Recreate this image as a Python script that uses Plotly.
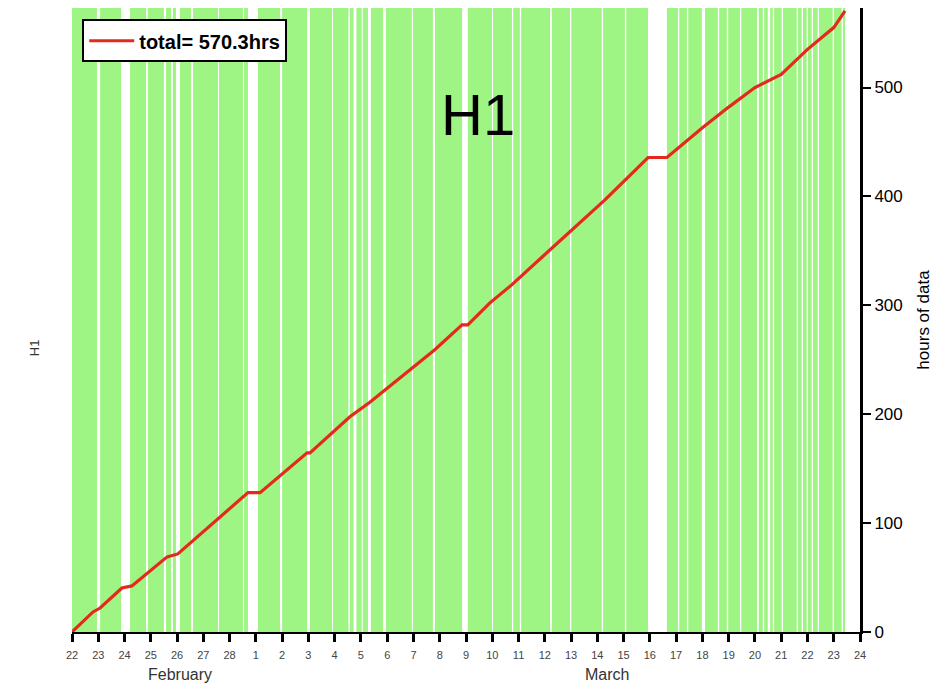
import plotly.graph_objects as go

# ---- data -------------------------------------------------------------
# day offsets from 22 Feb 00:00
tick_days = list(range(0, 31))
tick_labels = ["22", "23", "24", "25", "26", "27", "28",
               "1", "2", "3", "4", "5", "6", "7", "8", "9", "10", "11", "12",
               "13", "14", "15", "16", "17", "18", "19", "20", "21", "22", "23", "24"]

# observing span and gaps (no data) in days
run_start = 0.0
run_end = 29.43
gap_starts = [0.95, 1.87, 2.82, 3.50, 3.77, 3.96, 4.53, 5.56, 6.51, 6.70,
              7.92, 8.95, 9.90, 10.52, 10.72, 11.03, 11.27, 11.84, 12.94, 13.74,
              14.85, 15.99, 16.75, 17.05, 18.20, 18.96, 20.17, 21.05, 21.93,
              23.07, 23.41, 23.98, 24.59, 24.93, 25.43, 26.08, 26.30, 26.49,
              26.68, 27.02, 27.59, 27.78, 27.97, 28.16, 28.39, 28.96, 29.30]
gap_ends = [1.07, 2.21, 2.89, 3.58, 3.84, 4.11, 4.61, 5.60, 6.55, 7.08,
            8.00, 9.06, 9.94, 10.58, 10.83, 11.07, 11.38, 11.95, 12.98, 13.82,
            15.07, 16.03, 16.80, 17.10, 18.27, 19.01, 20.22, 21.10, 22.65,
            23.12, 23.46, 24.10, 24.64, 24.98, 25.48, 26.15, 26.35, 26.58,
            26.73, 27.07, 27.64, 27.83, 28.02, 28.21, 28.44, 29.01, 29.35]

# cumulative hours of data
line_days = [0, 0.8, 1.07, 1.9, 2.28, 3.62, 4.03, 6.7, 7.16, 8.95, 9.06, 10.58,
             11.34, 11.9, 12.87, 13.8, 14.85, 15.07, 15.9, 16.75, 17.93, 18.96,
             20.3, 21.93, 22.65, 24.0, 25.0, 26.0, 27.0, 28.0, 29.0, 29.43]
line_hours = [0, 18.4, 22, 40.4, 42.3, 69, 71.7, 128, 128, 164.5, 164.5, 197.6,
              211, 222, 241, 259, 282, 282, 302, 319, 345, 368,
              397, 435.7, 435.7, 463, 482, 500, 512, 535, 555, 570.3]

y_ticks = [0, 100, 200, 300, 400, 500]
y_top = 573

# ---- build on-intervals from the gaps ---------------------------------
on_centers, on_widths = [], []
cur = run_start
for s, e in zip(gap_starts, gap_ends):
    if s > cur:
        on_centers.append((cur + s) / 2)
        on_widths.append(s - cur)
    cur = e
if run_end > cur:
    on_centers.append((cur + run_end) / 2)
    on_widths.append(run_end - cur)

fig = go.Figure()
fig.add_trace(go.Bar(
    x=on_centers, y=[y_top] * len(on_centers), width=on_widths,
    marker=dict(color="#9ff584", line=dict(width=0)),
    showlegend=False, hoverinfo="skip"))
fig.add_trace(go.Scatter(
    x=line_days, y=line_hours, mode="lines",
    line=dict(color="#e42a1c", width=3.2),
    name="<b>total= 570.3hrs</b>"))

fig.update_layout(
    width=941, height=680,
    margin=dict(l=64, r=89, t=0, b=56),
    plot_bgcolor="white", paper_bgcolor="white",
    font=dict(family="Liberation Sans, Arial, sans-serif", color="black"),
    showlegend=True,
    legend=dict(x=0.013, y=0.982, xanchor="left", yanchor="top",
                bgcolor="white", bordercolor="black", borderwidth=2,
                itemwidth=45,
                font=dict(size=20, color="black")),
    xaxis=dict(range=[0, 30], tickmode="array", tickvals=tick_days,
               ticktext=tick_labels, ticks="outside", ticklen=8, tickwidth=3,
               tickcolor="black", showline=True, linecolor="black", linewidth=2,
               showgrid=False, zeroline=False, ticklabelstandoff=4,
               tickfont=dict(size=11, color="#444")),
    yaxis=dict(range=[0, y_top], side="right", tickmode="array",
               tickvals=y_ticks, ticks="outside", ticklen=8, tickwidth=2,
               tickcolor="black", showline=True, linecolor="black", linewidth=3,
               showgrid=False, zeroline=False,
               tickfont=dict(size=17, color="black"),
               title=dict(text="hours of data", font=dict(size=17, color="black"),
                          standoff=16)),
    annotations=[
        dict(text="H1", x=0.515, y=0.885, xref="paper", yref="paper",
             showarrow=False, font=dict(size=58, color="black")),
        dict(text="H1", x=-0.048, y=0.455, xref="paper", yref="paper",
             xanchor="center", yanchor="middle",
             showarrow=False, textangle=-90, font=dict(size=13, color="#333")),
        dict(text="February", x=4.1, y=-0.068, xref="x", yref="paper",
             xanchor="center", yanchor="middle",
             showarrow=False, font=dict(size=16, color="#333")),
        dict(text="March", x=20.35, y=-0.068, xref="x", yref="paper",
             xanchor="center", yanchor="middle",
             showarrow=False, font=dict(size=16, color="#333")),
    ],
)

fig.write_html("out.html")
